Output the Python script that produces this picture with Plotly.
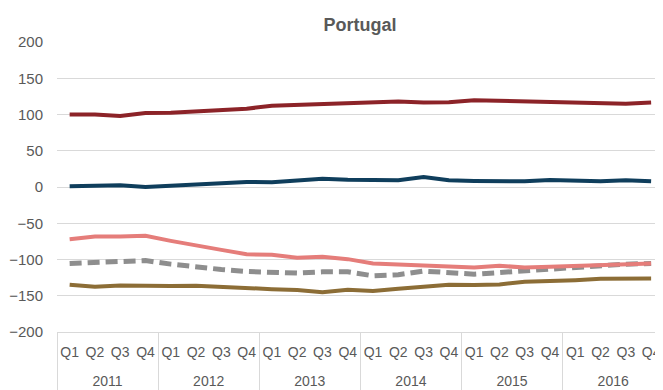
import plotly.graph_objects as go

years = ["2011", "2012", "2013", "2014", "2015", "2016"]
quarters = ["Q1", "Q2", "Q3", "Q4"]

series_dark_red = [100, 100, 98, 102, 102.5, 104.5, 106, 108,
                   112, 113.3, 113.8, 115.6, 116.5, 118, 116.5, 117,
                   119.7, 118.8, 117.4, 117.4, 116, 115, 115, 116.5]
series_navy = [1, 2, 2.5, 0, 2, 3, 5, 7,
               6.4, 8.3, 11.5, 10, 9.6, 9.2, 13.8, 9.2,
               8.3, 7.8, 7.8, 9.6, 8.7, 7.8, 9.2, 7.8]
series_salmon = [-72, -68.3, -68.3, -67.4, -74.3, -81.2, -86.7, -92.7,
                 -93.6, -97.7, -96.3, -99.5, -105.5, -106.9, -108.3, -110.6,
                 -111, -108.7, -111, -110, -108.7, -107.8, -106, -105.5]
series_gray = [-105.5, -104, -102.3, -101.4, -106.4, -110.6, -113.8, -116.5,
               -118.4, -118.8, -117, -117, -122.5, -121, -116, -118,
               -120.2, -118, -115.6, -113.3, -111, -108.7, -106.4, -105.5]
series_olive = [-134.9, -137.6, -135.8, -136.7, -136.7, -136.3, -138.1, -140,
                -140.9, -142.2, -145, -141.8, -143.6, -140.4, -137.2, -134.9,
                -135.3, -134.4, -130.8, -130.3, -128.5, -126.6, -126.2, -126.2]

y_ticks = [200, 150, 100, 50, 0, -50, -100, -150, -200]

# year labels get a leading line break so they sit lower, as in the reference
x_years = ["<br>" + y for y in years for _ in quarters]
x_quarters = [q for _ in years for q in quarters]
x = [x_years, x_quarters]

FONT = "Liberation Sans, Arial, sans-serif"
TXT = "#595959"
GRID = "#D9D9D9"

fig = go.Figure()
fig.add_trace(go.Scatter(x=x, y=series_olive, mode="lines",
                         line=dict(color="#8C6D36", width=4)))
fig.add_trace(go.Scatter(x=x, y=series_gray, mode="lines",
                         line=dict(color="#8E8E8E", width=5, dash="12px,6px")))
fig.add_trace(go.Scatter(x=x, y=series_salmon, mode="lines",
                         line=dict(color="#E57D7A", width=4)))
fig.add_trace(go.Scatter(x=x, y=series_navy, mode="lines",
                         line=dict(color="#0F3E5C", width=4)))
fig.add_trace(go.Scatter(x=x, y=series_dark_red, mode="lines",
                         line=dict(color="#8C2328", width=4)))

# page body has an 8px margin: shrink the figure so it fills the 663x390 window
fig.update_layout(
    width=655, height=382,
    margin=dict(l=49, r=0, t=34, b=58),
    paper_bgcolor="white", plot_bgcolor="white",
    showlegend=False,
    font=dict(family=FONT, color=TXT, size=14),
    title=dict(text="<b>Portugal</b>", x=0.5, xref="paper",
               y=1 - 17 / 382, yref="container", yanchor="middle",
               font=dict(family=FONT, size=18, color=TXT)),
)
fig.update_xaxes(
    type="multicategory",
    range=[-0.5, 23.47],
    automargin=False,
    tickangle=0,
    ticklabelstandoff=7,
    showgrid=False,
    showline=True, linecolor=GRID, linewidth=1,
    showdividers=True, dividercolor=GRID, dividerwidth=1,
    tickfont=dict(family=FONT, size=14, color=TXT),
)
fig.update_yaxes(
    range=[-200, 200],
    tickvals=y_ticks,
    automargin=False,
    showgrid=True, gridcolor=GRID, gridwidth=1.3,
    zeroline=False, showline=False,
    ticks="outside", ticklen=10, tickcolor="white",
    tickfont=dict(family=FONT, size=15, color=TXT),
)

fig.write_html("out.html")
